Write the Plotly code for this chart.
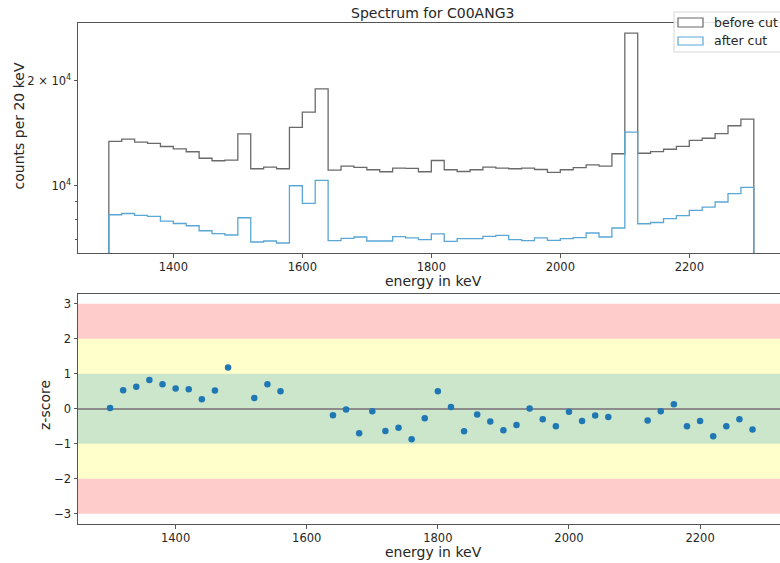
import math
import plotly.graph_objects as go

# ---- data -------------------------------------------------------------
bin_edges = list(range(1300, 2301, 20))  # 20 keV bins, 1300..2300 keV

counts_before = [
    13390, 13600, 13335, 13215, 12950, 12745, 12510, 11985, 11790, 11830,
    14065, 11185, 11310, 11185, 14680, 16240, 18935, 11090, 11385, 11280,
    11110, 10965, 11235, 11205, 10965, 11810, 11110, 10985, 11110, 11310,
    11235, 11185, 11235, 11130, 10915, 11110, 11260, 11480, 11385, 12345,
    27320, 12385, 12525, 12715, 12955, 13475, 13670, 14100, 14845, 15510,
]

counts_after = [
    8260, 8330, 8225, 8170, 7925, 7800, 7685, 7435, 7295, 7230,
    8100, 6905, 6950, 6860, 10000, 8900, 10355, 6965, 7070, 7135,
    6950, 6950, 7150, 7090, 7010, 7280, 6930, 7055, 7055, 7165,
    7210, 7010, 6965, 7090, 6975, 7055, 7105, 7325, 7135, 7570,
    14240, 7785, 7850, 8050, 8210, 8500, 8690, 8985, 9490, 9890,
]

z_energy = [
    1300, 1320, 1340, 1360, 1380, 1400, 1420, 1440, 1460, 1480,
    1520, 1540, 1560,
    1640, 1660, 1680, 1700, 1720, 1740, 1760, 1780, 1800, 1820, 1840,
    1860, 1880, 1900, 1920, 1940, 1960, 1980, 2000, 2020, 2040, 2060,
    2120, 2140, 2160, 2180, 2200, 2220, 2240, 2260, 2280,
]
z_score = [
    0.02, 0.53, 0.63, 0.82, 0.70, 0.58, 0.56, 0.27, 0.52, 1.18,
    0.31, 0.70, 0.50,
    -0.18, -0.02, -0.70, -0.07, -0.63, -0.54, -0.87, -0.27, 0.50, 0.05, -0.64,
    -0.16, -0.36, -0.61, -0.46, 0.01, -0.30, -0.50, -0.08, -0.35, -0.19, -0.23,
    -0.33, -0.07, 0.13, -0.50, -0.35, -0.78, -0.50, -0.30, -0.59,
]

x_ticks = [1400, 1600, 1800, 2000, 2200]
z_ticks = [-3, -2, -1, 0, 1, 2, 3]

# ---- styling ---------------------------------------------------------
W, H = 780, 563
ML = 78
FONT = "DejaVu Sans"
TXT = "#262626"
AXC = "#555555"
GREY = "#6a6a6a"
BLUE = "#5aa7d6"
DOT = "#1f77b4"


def px_x(px):
    return (px - ML) / (W - ML)


def px_y(py):
    return 1 - py / H


def step_outline(edges, values, floor):
    """Closed step outline of a histogram, dropping to `floor` at both ends."""
    xs = [edges[0]] + list(edges[:-1]) + [edges[-1], edges[-1]]
    ys = [floor] + list(values) + [values[-1], floor]
    return xs, ys


fig = go.Figure()

xb, yb = step_outline(bin_edges, counts_before, 1000)
xa, ya = step_outline(bin_edges, counts_after, 1000)
fig.add_trace(go.Scatter(x=xb, y=yb, mode="lines", line=dict(color=GREY, width=1.3, shape="hv"),
                         name="before cut", xaxis="x", yaxis="y", showlegend=False, hoverinfo="skip"))
fig.add_trace(go.Scatter(x=xa, y=ya, mode="lines", line=dict(color=BLUE, width=1.3, shape="hv"),
                         name="after cut", xaxis="x", yaxis="y", showlegend=False, hoverinfo="skip"))

fig.add_trace(go.Scatter(x=z_energy, y=z_score, mode="markers",
                         marker=dict(color=DOT, size=6.5, line=dict(width=0)),
                         xaxis="x2", yaxis="y2", showlegend=False))

# significance bands on the z-score panel
bands = [(2, 3, "rgba(255,0,0,0.2)"), (-3, -2, "rgba(255,0,0,0.2)"),
         (1, 2, "rgba(255,255,0,0.2)"), (-2, -1, "rgba(255,255,0,0.2)"),
         (-1, 1, "rgba(0,128,0,0.2)")]
shapes = []
for lo, hi, col in bands:
    shapes.append(dict(type="rect", xref="x2 domain", yref="y2", x0=0, x1=1, y0=lo, y1=hi,
                       fillcolor=col, line=dict(width=0), layer="below"))

# hand-drawn legend box for the spectrum panel
shapes.append(dict(type="rect", xref="paper", yref="paper",
                   x0=px_x(674), x1=px_x(792), y0=px_y(52), y1=px_y(12),
                   fillcolor="rgba(255,255,255,0.85)", line=dict(color="#d6d6d6", width=1),
                   layer="above"))
for (y0, y1, col) in [(18, 27, GREY), (37, 45, BLUE)]:
    shapes.append(dict(type="rect", xref="paper", yref="paper",
                       x0=px_x(678), x1=px_x(703), y0=px_y(y1), y1=px_y(y0),
                       fillcolor="white", line=dict(color=col, width=1.2), layer="above"))

annotations = [
    dict(text="Spectrum for C00ANG3", x=px_x(432), y=px_y(13.5), xref="paper", yref="paper",
         showarrow=False, font=dict(family=FONT, size=14, color=TXT), xanchor="center", yanchor="middle"),
    dict(text="energy in keV", x=px_x(433), y=px_y(281), xref="paper", yref="paper",
         showarrow=False, font=dict(family=FONT, size=14, color=TXT), xanchor="center", yanchor="middle"),
    dict(text="energy in keV", x=px_x(433), y=px_y(552), xref="paper", yref="paper",
         showarrow=False, font=dict(family=FONT, size=14, color=TXT), xanchor="center", yanchor="middle"),
    dict(text="counts per 20 keV", x=px_x(18.5), y=px_y(126), xref="paper", yref="paper", textangle=-90,
         showarrow=False, font=dict(family=FONT, size=14, color=TXT), xanchor="center", yanchor="middle"),
    dict(text="z-score", x=px_x(45), y=px_y(405), xref="paper", yref="paper", textangle=-90,
         showarrow=False, font=dict(family=FONT, size=14, color=TXT), xanchor="center", yanchor="middle"),
    dict(text="before cut", x=px_x(712), y=px_y(22.5), xref="paper", yref="paper",
         showarrow=False, font=dict(family=FONT, size=12.5, color=TXT), xanchor="left", yanchor="middle"),
    dict(text="after cut", x=px_x(712), y=px_y(41), xref="paper", yref="paper",
         showarrow=False, font=dict(family=FONT, size=12.5, color=TXT), xanchor="left", yanchor="middle"),
]

tick_font = dict(family=FONT, size=11.5, color=TXT)
axis_common = dict(showgrid=False, zeroline=False, showline=True, linecolor=AXC, linewidth=1,
                   ticks="outside", ticklen=3.5, tickcolor=AXC, tickwidth=1, tickfont=tick_font)

fig.update_layout(
    width=W, height=H,
    margin=dict(l=ML, r=0, t=0, b=0),
    paper_bgcolor="white", plot_bgcolor="white",
    showlegend=False,
    shapes=shapes,
    annotations=annotations,
    xaxis=dict(domain=[0, 1], anchor="y", range=[1252.2, 2340.6], tickvals=x_ticks,
               mirror=True, **axis_common),
    yaxis=dict(domain=[px_y(253), px_y(23)], anchor="x", type="log",
               range=[math.log10(6422), math.log10(29200)],
               tickvals=[10000, 20000], ticktext=["10<sup>4</sup>", "2 × 10<sup>4</sup>"],
               minor=dict(tickmode="array", tickvals=[7000, 8000, 9000], ticks="outside",
                          ticklen=2, tickcolor=AXC, tickwidth=0.8),
               **axis_common),
    xaxis2=dict(domain=[0, 1], anchor="y2", range=[1251.1, 2321.9], tickvals=x_ticks,
                mirror=True, **axis_common),
    yaxis2=dict(domain=[px_y(524), px_y(294)], anchor="x2", range=[-3.29, 3.28], tickvals=z_ticks,
                **{k: v for k, v in axis_common.items() if k != "zeroline"},
                zeroline=True, zerolinecolor="#8c8c8c", zerolinewidth=1.5),
)

fig.write_html("out.html")
